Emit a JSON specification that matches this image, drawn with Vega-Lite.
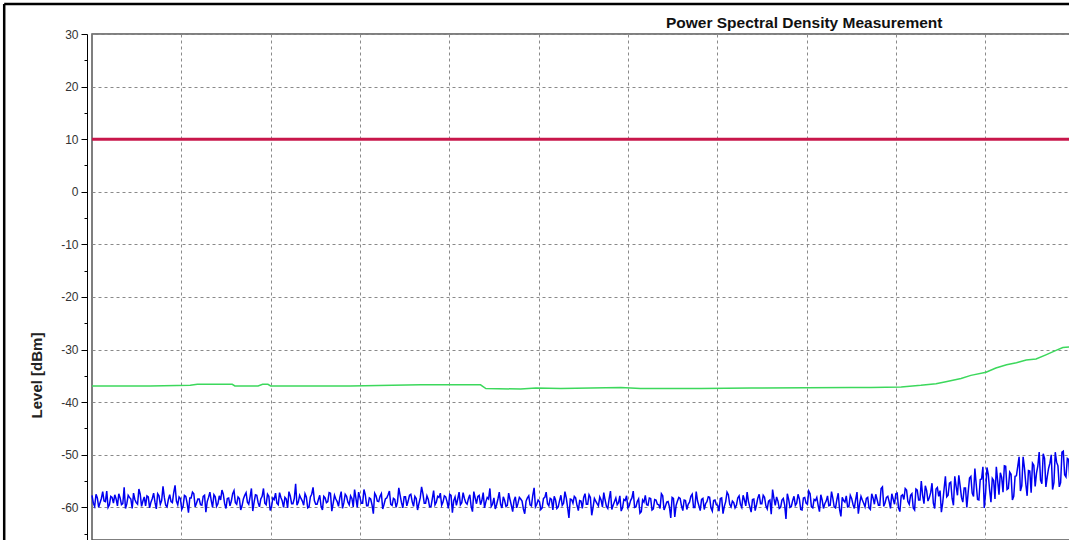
{
  "$schema": "https://vega.github.io/schema/vega-lite/v6.json",
  "width": 978,
  "height": 506,
  "autosize": {"type": "none"},
  "padding": {"left": 92, "top": 34, "right": 0, "bottom": 0},
  "background": "white",
  "title": {"text": "Power Spectral Density Measurement", "anchor": "start", "dx": 663, "font": "Liberation Sans", "fontSize": 15.5, "fontWeight": "bold", "color": "#111", "offset": -29},
  "config": {"view": {"stroke": "#555", "strokeWidth": 1.5}},
  "datasets": {
    "blue": [
      {"x":0,"y":-57.7},{"x":3,"y":-59.8},{"x":6,"y":-58.2},{"x":9,"y":-59.1},{"x":12,"y":-57.0},{"x":15,"y":-58.9},{"x":18,"y":-60.0},{"x":21,"y":-57.9},{"x":24,"y":-59.2},{"x":27,"y":-58.4},
      {"x":30,"y":-57.4},{"x":33,"y":-59.5},{"x":36,"y":-56.2},{"x":39,"y":-59.3},{"x":42,"y":-58.1},{"x":45,"y":-60.2},{"x":48,"y":-58.5},{"x":51,"y":-59.4},{"x":54,"y":-57.5},{"x":57,"y":-58.8},
      {"x":60,"y":-59.7},{"x":63,"y":-58.0},{"x":66,"y":-59.0},{"x":69,"y":-57.3},{"x":72,"y":-60.3},{"x":75,"y":-57.8},{"x":78,"y":-58.7},{"x":81,"y":-58.1},{"x":84,"y":-59.9},{"x":87,"y":-57.6},
      {"x":90,"y":-59.1},{"x":93,"y":-55.8},{"x":96,"y":-59.5},{"x":99,"y":-58.3},{"x":102,"y":-59.8},{"x":105,"y":-57.9},{"x":108,"y":-61.0},{"x":111,"y":-58.2},{"x":114,"y":-57.4},{"x":117,"y":-59.2},
      {"x":120,"y":-58.4},{"x":123,"y":-59.6},{"x":126,"y":-57.7},{"x":129,"y":-58.9},{"x":132,"y":-57.1},{"x":135,"y":-60.0},{"x":138,"y":-58.0},{"x":141,"y":-59.3},{"x":144,"y":-58.6},{"x":147,"y":-57.5},
      {"x":150,"y":-60.2},{"x":153,"y":-58.2},{"x":156,"y":-58.8},{"x":159,"y":-56.8},{"x":162,"y":-59.4},{"x":165,"y":-58.3},{"x":168,"y":-59.7},{"x":171,"y":-57.7},{"x":174,"y":-59.0},{"x":177,"y":-58.0},
      {"x":180,"y":-60.7},{"x":183,"y":-57.6},{"x":186,"y":-59.1},{"x":189,"y":-58.4},{"x":192,"y":-56.4},{"x":195,"y":-59.5},{"x":198,"y":-57.9},{"x":201,"y":-59.9},{"x":204,"y":-58.5},{"x":207,"y":-59.2},
      {"x":210,"y":-57.2},{"x":213,"y":-58.8},{"x":216,"y":-58.1},{"x":219,"y":-60.1},{"x":222,"y":-57.8},{"x":225,"y":-59.3},{"x":228,"y":-55.5},{"x":231,"y":-59.0},{"x":234,"y":-58.3},{"x":237,"y":-59.6},
      {"x":240,"y":-58.0},{"x":243,"y":-59.9},{"x":246,"y":-57.5},{"x":249,"y":-58.7},{"x":252,"y":-59.4},{"x":255,"y":-57.7},{"x":258,"y":-60.5},{"x":261,"y":-58.2},{"x":264,"y":-58.9},{"x":267,"y":-57.3},
      {"x":270,"y":-59.3},{"x":273,"y":-58.4},{"x":276,"y":-59.8},{"x":279,"y":-57.0},{"x":282,"y":-59.1},{"x":285,"y":-57.9},{"x":288,"y":-59.5},{"x":291,"y":-58.3},{"x":294,"y":-56.6},{"x":297,"y":-60.0},
      {"x":300,"y":-58.1},{"x":303,"y":-59.2},{"x":306,"y":-57.6},{"x":309,"y":-59.7},{"x":312,"y":-58.4},{"x":315,"y":-61.2},{"x":318,"y":-57.8},{"x":321,"y":-58.9},{"x":324,"y":-57.4},{"x":327,"y":-59.4},
      {"x":330,"y":-58.2},{"x":333,"y":-56.9},{"x":336,"y":-59.6},{"x":339,"y":-58.5},{"x":342,"y":-59.0},{"x":345,"y":-57.7},{"x":348,"y":-60.1},{"x":351,"y":-58.0},{"x":354,"y":-58.8},{"x":357,"y":-57.5},
      {"x":360,"y":-59.8},{"x":363,"y":-58.3},{"x":366,"y":-59.3},{"x":369,"y":-56.1},{"x":372,"y":-59.2},{"x":375,"y":-57.8},{"x":378,"y":-59.9},{"x":381,"y":-58.4},{"x":384,"y":-59.5},{"x":387,"y":-57.9},
      {"x":390,"y":-57.3},{"x":393,"y":-59.0},{"x":396,"y":-58.0},{"x":399,"y":-60.2},{"x":402,"y":-57.7},{"x":405,"y":-58.7},{"x":408,"y":-59.6},{"x":411,"y":-57.1},{"x":414,"y":-59.1},{"x":417,"y":-58.3},
      {"x":420,"y":-59.4},{"x":423,"y":-57.6},{"x":426,"y":-60.8},{"x":429,"y":-58.2},{"x":432,"y":-57.9},{"x":435,"y":-59.5},{"x":438,"y":-57.2},{"x":441,"y":-58.9},{"x":444,"y":-58.4},{"x":447,"y":-59.8},
      {"x":450,"y":-58.2},{"x":453,"y":-59.5},{"x":456,"y":-57.1},{"x":459,"y":-60.1},{"x":462,"y":-58.7},{"x":465,"y":-59.6},{"x":468,"y":-58.5},{"x":471,"y":-60.8},{"x":474,"y":-58.0},{"x":477,"y":-59.2},
      {"x":480,"y":-58.4},{"x":483,"y":-60.3},{"x":486,"y":-58.8},{"x":489,"y":-57.8},{"x":492,"y":-59.7},{"x":495,"y":-56.3},{"x":498,"y":-59.4},{"x":501,"y":-58.9},{"x":504,"y":-60.1},{"x":507,"y":-58.1},
      {"x":510,"y":-59.3},{"x":513,"y":-58.3},{"x":516,"y":-60.5},{"x":519,"y":-58.6},{"x":522,"y":-59.9},{"x":525,"y":-57.7},{"x":528,"y":-59.2},{"x":531,"y":-58.2},{"x":534,"y":-62.0},{"x":537,"y":-58.5},
      {"x":540,"y":-57.9},{"x":543,"y":-59.6},{"x":546,"y":-58.7},{"x":549,"y":-60.2},{"x":552,"y":-57.4},{"x":555,"y":-59.4},{"x":558,"y":-58.1},{"x":561,"y":-60.0},{"x":564,"y":-58.8},{"x":567,"y":-59.7},
      {"x":570,"y":-58.6},{"x":573,"y":-57.2},{"x":576,"y":-59.8},{"x":579,"y":-58.4},{"x":582,"y":-60.4},{"x":585,"y":-58.9},{"x":588,"y":-59.5},{"x":591,"y":-57.8},{"x":594,"y":-60.1},{"x":597,"y":-58.7},
      {"x":600,"y":-60.1},{"x":603,"y":-58.7},{"x":606,"y":-56.9},{"x":609,"y":-59.9},{"x":612,"y":-58.4},{"x":615,"y":-60.8},{"x":618,"y":-59.0},{"x":621,"y":-59.5},{"x":624,"y":-58.2},{"x":627,"y":-60.5},
      {"x":630,"y":-58.5},{"x":633,"y":-59.4},{"x":636,"y":-60.2},{"x":639,"y":-57.8},{"x":642,"y":-59.8},{"x":645,"y":-58.9},{"x":648,"y":-62.0},{"x":651,"y":-58.3},{"x":654,"y":-59.6},{"x":657,"y":-58.1},
      {"x":660,"y":-59.7},{"x":663,"y":-58.6},{"x":666,"y":-60.4},{"x":669,"y":-59.0},{"x":672,"y":-57.5},{"x":675,"y":-60.0},{"x":678,"y":-58.8},{"x":681,"y":-60.6},{"x":684,"y":-58.3},{"x":687,"y":-59.3},
      {"x":690,"y":-58.0},{"x":693,"y":-60.1},{"x":696,"y":-58.7},{"x":699,"y":-59.5},{"x":702,"y":-60.7},{"x":705,"y":-58.2},{"x":708,"y":-59.8},{"x":711,"y":-57.1},{"x":714,"y":-59.4},{"x":717,"y":-58.8},
      {"x":720,"y":-60.1},{"x":723,"y":-58.2},{"x":726,"y":-59.4},{"x":729,"y":-57.7},{"x":732,"y":-59.7},{"x":735,"y":-58.9},{"x":738,"y":-60.9},{"x":741,"y":-58.4},{"x":744,"y":-59.5},{"x":747,"y":-57.5},
      {"x":750,"y":-59.3},{"x":753,"y":-58.1},{"x":756,"y":-60.3},{"x":759,"y":-58.6},{"x":762,"y":-56.6},{"x":765,"y":-59.6},{"x":768,"y":-58.8},{"x":771,"y":-60.0},{"x":774,"y":-58.3},{"x":777,"y":-62.2},
      {"x":780,"y":-58.5},{"x":783,"y":-59.8},{"x":786,"y":-57.9},{"x":789,"y":-59.2},{"x":792,"y":-58.4},{"x":795,"y":-60.5},{"x":798,"y":-58.1},{"x":801,"y":-59.4},{"x":804,"y":-57.4},{"x":807,"y":-60.1},
      {"x":810,"y":-58.7},{"x":813,"y":-59.6},{"x":816,"y":-57.6},{"x":819,"y":-60.2},{"x":822,"y":-58.8},{"x":825,"y":-59.7},{"x":828,"y":-57.0},{"x":831,"y":-59.9},{"x":834,"y":-58.5},{"x":837,"y":-60.4},
      {"x":840,"y":-58.1},{"x":843,"y":-59.0},{"x":846,"y":-59.9},{"x":849,"y":-57.7},{"x":852,"y":-59.4},{"x":855,"y":-58.5},{"x":858,"y":-61.2},{"x":861,"y":-57.9},{"x":864,"y":-59.2},{"x":867,"y":-58.3},
      {"x":870,"y":-60.1},{"x":873,"y":-57.4},{"x":876,"y":-59.4},{"x":879,"y":-58.5},{"x":882,"y":-59.6},{"x":885,"y":-56.1},{"x":888,"y":-59.1},{"x":891,"y":-57.9},{"x":894,"y":-60.2},{"x":897,"y":-58.4},
      {"x":900,"y":-57.4},{"x":903,"y":-60.1},{"x":906,"y":-57.8},{"x":909,"y":-58.5},{"x":912,"y":-56.7},{"x":915,"y":-59.4},{"x":918,"y":-57.4},{"x":921,"y":-60.5},{"x":924,"y":-56.7},{"x":927,"y":-58.6},
      {"x":930,"y":-57.7},{"x":933,"y":-55.9},{"x":936,"y":-58.8},{"x":939,"y":-57.2},{"x":942,"y":-59.2},{"x":945,"y":-56.5},{"x":948,"y":-57.9},{"x":951,"y":-60.9},{"x":954,"y":-56.5},{"x":957,"y":-58.0},
      {"x":960,"y":-55.4},{"x":963,"y":-58.3},{"x":966,"y":-54.1},{"x":969,"y":-57.7},{"x":972,"y":-55.9},{"x":975,"y":-59.0},{"x":978,"y":-56.3},{"x":981,"y":-57.1},{"x":984,"y":-54.1},{"x":987,"y":-57.9},
      {"x":990,"y":-55.6},{"x":993,"y":-58.6},{"x":996,"y":-54.6},{"x":999,"y":-60.1},{"x":1002,"y":-52.4},{"x":1005,"y":-56.7},{"x":1008,"y":-54.5},{"x":1011,"y":-58.4},{"x":1014,"y":-54.9},{"x":1017,"y":-53.4},
      {"x":1020,"y":-57.1},{"x":1023,"y":-52.2},{"x":1026,"y":-56.4},{"x":1029,"y":-53.7},{"x":1032,"y":-57.9},{"x":1035,"y":-54.0},{"x":1038,"y":-50.4},{"x":1041,"y":-55.9},{"x":1044,"y":-52.5},{"x":1047,"y":-57.8},
      {"x":1050,"y":-53.1},{"x":1053,"y":-51.6},{"x":1056,"y":-56.0},{"x":1059,"y":-52.1},{"x":1062,"y":-54.8},{"x":1065,"y":-49.8},{"x":1068,"y":-56.1},{"x":1071,"y":-52.6},{"x":1074,"y":-50.0},{"x":1077,"y":-55.3},
      {"x":1080,"y":-51.4},{"x":1083,"y":-56.1},{"x":1086,"y":-49.5},{"x":1089,"y":-53.8},{"x":1092,"y":-50.7},{"x":1095,"y":-55.3},
      {"x":1.5,"y":-59.2},{"x":4.5,"y":-57.5},{"x":7.5,"y":-60.0},{"x":10.5,"y":-58.3},{"x":13.5,"y":-58.8},{"x":16.5,"y":-56.9},{"x":19.5,"y":-59.5},{"x":22.5,"y":-58.1},{"x":25.5,"y":-57.6},{"x":28.5,"y":-59.7},
      {"x":31.5,"y":-58.2},{"x":34.5,"y":-59.3},{"x":37.5,"y":-60.2},{"x":40.5,"y":-57.7},{"x":43.5,"y":-58.4},{"x":46.5,"y":-57.3},{"x":49.5,"y":-59.1},{"x":52.5,"y":-56.5},{"x":55.5,"y":-59.8},{"x":58.5,"y":-58.0},
      {"x":61.5,"y":-57.8},{"x":64.5,"y":-60.1},{"x":67.5,"y":-58.3},{"x":70.5,"y":-59.0},{"x":73.5,"y":-57.4},{"x":76.5,"y":-59.4},{"x":79.5,"y":-56.0},{"x":82.5,"y":-59.6},{"x":85.5,"y":-58.5},{"x":88.5,"y":-58.9},
      {"x":91.5,"y":-57.2},{"x":94.5,"y":-58.8},{"x":97.5,"y":-58.0},{"x":100.5,"y":-60.4},{"x":103.5,"y":-57.7},{"x":106.5,"y":-59.2},{"x":109.5,"y":-58.2},{"x":112.5,"y":-57.1},{"x":115.5,"y":-59.9},{"x":118.5,"y":-58.4},
      {"x":121.5,"y":-59.5},{"x":124.5,"y":-57.9},{"x":127.5,"y":-60.9},{"x":130.5,"y":-58.1},{"x":133.5,"y":-58.7},{"x":136.5,"y":-57.6},{"x":139.5,"y":-59.8},{"x":142.5,"y":-57.8},{"x":145.5,"y":-56.7},{"x":148.5,"y":-59.3},
      {"x":151.5,"y":-58.3},{"x":154.5,"y":-59.7},{"x":157.5,"y":-57.4},{"x":160.5,"y":-59.1},{"x":163.5,"y":-58.0},{"x":166.5,"y":-60.5},{"x":169.5,"y":-58.4},{"x":172.5,"y":-57.2},{"x":175.5,"y":-59.4},{"x":178.5,"y":-56.4},
      {"x":181.5,"y":-59.0},{"x":184.5,"y":-57.7},{"x":187.5,"y":-59.9},{"x":190.5,"y":-57.9},{"x":193.5,"y":-59.2},{"x":196.5,"y":-57.5},{"x":199.5,"y":-60.6},{"x":202.5,"y":-58.2},{"x":205.5,"y":-57.3},{"x":208.5,"y":-59.5},
      {"x":211.5,"y":-58.1},{"x":214.5,"y":-60.0},{"x":217.5,"y":-58.4},{"x":220.5,"y":-57.0},{"x":223.5,"y":-59.3},{"x":226.5,"y":-58.3},{"x":229.5,"y":-59.6},{"x":232.5,"y":-57.7},{"x":235.5,"y":-58.8},{"x":238.5,"y":-57.4},
      {"x":241.5,"y":-60.1},{"x":244.5,"y":-58.0},{"x":247.5,"y":-56.2},{"x":250.5,"y":-59.4},{"x":253.5,"y":-58.5},{"x":256.5,"y":-59.8},{"x":259.5,"y":-57.9},{"x":262.5,"y":-59.1},{"x":265.5,"y":-57.2},{"x":268.5,"y":-60.7},
      {"x":271.5,"y":-57.7},{"x":274.5,"y":-58.9},{"x":277.5,"y":-58.1},{"x":280.5,"y":-60.2},{"x":283.5,"y":-57.5},{"x":286.5,"y":-59.0},{"x":289.5,"y":-57.8},{"x":292.5,"y":-59.9},{"x":295.5,"y":-58.3},{"x":298.5,"y":-57.1},
      {"x":301.5,"y":-59.2},{"x":304.5,"y":-56.6},{"x":307.5,"y":-59.7},{"x":310.5,"y":-58.2},{"x":313.5,"y":-59.5},{"x":316.5,"y":-57.3},{"x":319.5,"y":-58.8},{"x":322.5,"y":-57.9},{"x":325.5,"y":-60.3},{"x":328.5,"y":-58.4},
      {"x":331.5,"y":-57.6},{"x":334.5,"y":-59.4},{"x":337.5,"y":-58.3},{"x":340.5,"y":-60.0},{"x":343.5,"y":-56.3},{"x":346.5,"y":-59.1},{"x":349.5,"y":-58.0},{"x":352.5,"y":-59.7},{"x":355.5,"y":-57.7},{"x":358.5,"y":-58.9},
      {"x":361.5,"y":-57.9},{"x":364.5,"y":-60.5},{"x":367.5,"y":-58.2},{"x":370.5,"y":-57.4},{"x":373.5,"y":-59.2},{"x":376.5,"y":-58.5},{"x":379.5,"y":-59.9},{"x":382.5,"y":-56.8},{"x":385.5,"y":-59.0},{"x":388.5,"y":-58.1},
      {"x":391.5,"y":-59.6},{"x":394.5,"y":-57.8},{"x":397.5,"y":-58.9},{"x":400.5,"y":-57.5},{"x":403.5,"y":-61.0},{"x":406.5,"y":-58.0},{"x":409.5,"y":-58.4},{"x":412.5,"y":-59.5},{"x":415.5,"y":-57.2},{"x":418.5,"y":-59.1},
      {"x":421.5,"y":-58.3},{"x":424.5,"y":-59.8},{"x":427.5,"y":-57.0},{"x":430.5,"y":-59.3},{"x":433.5,"y":-57.7},{"x":436.5,"y":-58.7},{"x":439.5,"y":-60.1},{"x":442.5,"y":-58.1},{"x":445.5,"y":-56.4},{"x":448.5,"y":-59.4},
      {"x":451.5,"y":-60.3},{"x":454.5,"y":-58.4},{"x":457.5,"y":-59.4},{"x":460.5,"y":-58.0},{"x":463.5,"y":-59.8},{"x":466.5,"y":-57.3},{"x":469.5,"y":-59.6},{"x":472.5,"y":-58.7},{"x":475.5,"y":-60.1},{"x":478.5,"y":-58.1},
      {"x":481.5,"y":-58.8},{"x":484.5,"y":-61.2},{"x":487.5,"y":-58.2},{"x":490.5,"y":-59.5},{"x":493.5,"y":-57.7},{"x":496.5,"y":-59.9},{"x":499.5,"y":-58.6},{"x":502.5,"y":-60.4},{"x":505.5,"y":-58.3},{"x":508.5,"y":-57.1},
      {"x":511.5,"y":-59.7},{"x":514.5,"y":-58.5},{"x":517.5,"y":-57.9},{"x":520.5,"y":-60.2},{"x":523.5,"y":-58.7},{"x":526.5,"y":-59.6},{"x":529.5,"y":-57.0},{"x":532.5,"y":-60.0},{"x":535.5,"y":-58.4},{"x":538.5,"y":-59.2},
      {"x":541.5,"y":-58.2},{"x":544.5,"y":-60.6},{"x":547.5,"y":-58.8},{"x":550.5,"y":-58.1},{"x":553.5,"y":-59.4},{"x":556.5,"y":-57.6},{"x":559.5,"y":-61.5},{"x":562.5,"y":-58.3},{"x":565.5,"y":-59.3},{"x":568.5,"y":-58.0},
      {"x":571.5,"y":-59.9},{"x":574.5,"y":-58.6},{"x":577.5,"y":-60.2},{"x":580.5,"y":-56.9},{"x":583.5,"y":-59.6},{"x":586.5,"y":-58.2},{"x":589.5,"y":-59.1},{"x":592.5,"y":-60.7},{"x":595.5,"y":-58.5},{"x":598.5,"y":-57.8},
      {"x":601.5,"y":-59.7},{"x":604.5,"y":-58.2},{"x":607.5,"y":-60.0},{"x":610.5,"y":-58.9},{"x":613.5,"y":-61.1},{"x":616.5,"y":-58.6},{"x":619.5,"y":-57.7},{"x":622.5,"y":-59.6},{"x":625.5,"y":-58.3},{"x":628.5,"y":-60.3},
      {"x":631.5,"y":-58.6},{"x":634.5,"y":-59.5},{"x":637.5,"y":-57.4},{"x":640.5,"y":-60.5},{"x":643.5,"y":-59.0},{"x":646.5,"y":-59.9},{"x":649.5,"y":-58.1},{"x":652.5,"y":-61.8},{"x":655.5,"y":-58.8},{"x":658.5,"y":-58.3},
      {"x":661.5,"y":-60.6},{"x":664.5,"y":-58.7},{"x":667.5,"y":-59.4},{"x":670.5,"y":-57.9},{"x":673.5,"y":-60.0},{"x":676.5,"y":-57.0},{"x":679.5,"y":-59.7},{"x":682.5,"y":-58.5},{"x":685.5,"y":-60.4},{"x":688.5,"y":-58.9},
      {"x":691.5,"y":-58.1},{"x":694.5,"y":-60.7},{"x":697.5,"y":-58.6},{"x":700.5,"y":-59.6},{"x":703.5,"y":-58.3},{"x":706.5,"y":-61.2},{"x":709.5,"y":-58.9},{"x":712.5,"y":-57.6},{"x":715.5,"y":-59.9},{"x":718.5,"y":-59.1},
      {"x":721.5,"y":-59.6},{"x":724.5,"y":-57.8},{"x":727.5,"y":-60.0},{"x":730.5,"y":-58.6},{"x":733.5,"y":-57.1},{"x":736.5,"y":-59.9},{"x":739.5,"y":-58.5},{"x":742.5,"y":-60.6},{"x":745.5,"y":-58.2},{"x":748.5,"y":-59.3},
      {"x":751.5,"y":-57.7},{"x":754.5,"y":-59.7},{"x":757.5,"y":-58.8},{"x":760.5,"y":-61.3},{"x":763.5,"y":-58.3},{"x":766.5,"y":-58.0},{"x":769.5,"y":-60.2},{"x":772.5,"y":-58.6},{"x":775.5,"y":-59.5},{"x":778.5,"y":-57.4},
      {"x":781.5,"y":-60.0},{"x":784.5,"y":-58.7},{"x":787.5,"y":-59.6},{"x":790.5,"y":-57.5},{"x":793.5,"y":-60.4},{"x":796.5,"y":-58.2},{"x":799.5,"y":-59.2},{"x":802.5,"y":-56.9},{"x":805.5,"y":-59.9},{"x":808.5,"y":-58.5},
      {"x":811.5,"y":-58.1},{"x":814.5,"y":-60.8},{"x":817.5,"y":-58.6},{"x":820.5,"y":-59.3},{"x":823.5,"y":-57.8},{"x":826.5,"y":-59.6},{"x":829.5,"y":-58.3},{"x":832.5,"y":-60.1},{"x":835.5,"y":-57.3},{"x":838.5,"y":-61.7},
      {"x":841.5,"y":-58.7},{"x":844.5,"y":-57.8},{"x":847.5,"y":-59.8},{"x":850.5,"y":-58.3},{"x":853.5,"y":-60.2},{"x":856.5,"y":-57.1},{"x":859.5,"y":-59.3},{"x":862.5,"y":-58.6},{"x":865.5,"y":-59.9},{"x":868.5,"y":-58.1},
      {"x":871.5,"y":-60.4},{"x":874.5,"y":-58.2},{"x":877.5,"y":-57.5},{"x":880.5,"y":-59.6},{"x":883.5,"y":-56.4},{"x":886.5,"y":-59.8},{"x":889.5,"y":-58.1},{"x":892.5,"y":-58.9},{"x":895.5,"y":-57.4},{"x":898.5,"y":-59.4},
      {"x":901.5,"y":-57.3},{"x":904.5,"y":-60.8},{"x":907.5,"y":-57.6},{"x":910.5,"y":-56.4},{"x":913.5,"y":-58.9},{"x":916.5,"y":-57.7},{"x":919.5,"y":-60.1},{"x":922.5,"y":-56.5},{"x":925.5,"y":-58.6},{"x":928.5,"y":-55.0},
      {"x":931.5,"y":-59.3},{"x":934.5,"y":-56.8},{"x":937.5,"y":-58.1},{"x":940.5,"y":-55.4},{"x":943.5,"y":-60.2},{"x":946.5,"y":-56.2},{"x":949.5,"y":-56.8},{"x":952.5,"y":-59.1},{"x":955.5,"y":-54.1},{"x":958.5,"y":-57.7},
      {"x":961.5,"y":-55.2},{"x":964.5,"y":-59.6},{"x":967.5,"y":-56.0},{"x":970.5,"y":-53.9},{"x":973.5,"y":-58.1},{"x":976.5,"y":-56.3},{"x":979.5,"y":-60.0},{"x":982.5,"y":-54.4},{"x":985.5,"y":-57.3},{"x":988.5,"y":-52.6},
      {"x":991.5,"y":-58.5},{"x":994.5,"y":-54.7},{"x":997.5,"y":-52.3},{"x":1000.5,"y":-57.3},{"x":1003.5,"y":-53.7},{"x":1006.5,"y":-59.0},{"x":1009.5,"y":-54.9},{"x":1012.5,"y":-52.3},{"x":1015.5,"y":-57.6},{"x":1018.5,"y":-54.3},
      {"x":1021.5,"y":-52.1},{"x":1024.5,"y":-56.6},{"x":1027.5,"y":-53.3},{"x":1030.5,"y":-58.6},{"x":1033.5,"y":-54.1},{"x":1036.5,"y":-52.2},{"x":1039.5,"y":-56.9},{"x":1042.5,"y":-50.4},{"x":1045.5,"y":-55.5},{"x":1048.5,"y":-53.0},
      {"x":1051.5,"y":-57.2},{"x":1054.5,"y":-52.0},{"x":1057.5,"y":-53.5},{"x":1060.5,"y":-49.5},{"x":1063.5,"y":-55.5},{"x":1066.5,"y":-50.7},{"x":1069.5,"y":-54.2},{"x":1072.5,"y":-51.6},{"x":1075.5,"y":-56.6},{"x":1078.5,"y":-49.5},
      {"x":1081.5,"y":-52.1},{"x":1084.5,"y":-55.3},{"x":1087.5,"y":-49.3},{"x":1090.5,"y":-54.2},{"x":1093.5,"y":-50.9}
    ],
    "green": [
      {"x":0,"y":-36.9},{"x":65,"y":-36.9},{"x":110,"y":-36.8},{"x":118,"y":-36.6},{"x":157,"y":-36.6},{"x":160,"y":-36.9},{"x":186,"y":-36.9},{"x":191,"y":-36.6},{"x":197,"y":-36.6},{"x":200,"y":-36.9},
      {"x":289,"y":-36.9},{"x":368,"y":-36.7},{"x":435,"y":-36.7},{"x":441,"y":-37.4},{"x":480,"y":-37.5},{"x":497,"y":-37.3},{"x":525,"y":-37.4},{"x":592,"y":-37.2},{"x":614,"y":-37.4},{"x":682,"y":-37.4},
      {"x":738,"y":-37.3},{"x":850,"y":-37.2},{"x":872,"y":-37.2},{"x":906,"y":-37.1},{"x":928,"y":-36.8},{"x":945,"y":-36.5},{"x":956,"y":-36.1},{"x":973,"y":-35.5},{"x":984,"y":-34.9},{"x":1001,"y":-34.3},
      {"x":1012,"y":-33.5},{"x":1024,"y":-32.9},{"x":1035,"y":-32.5},{"x":1046,"y":-32.0},{"x":1057,"y":-31.8},{"x":1068,"y":-31.0},{"x":1080,"y":-30.1},{"x":1087,"y":-29.6},{"x":1095,"y":-29.5}
    ],
    "red": [{"x":0,"y":10},{"x":1095,"y":10}]
  },
  "resolve": {"axis": {"y": "independent"}},
  "layer": [
    {
      "data": {"name": "blue"},
      "mark": {"type": "line", "color": "#0000f0", "strokeWidth": 1.5},
      "encoding": {
        "x": {"field": "x", "type": "quantitative", "scale": {"domain": [0, 1095], "nice": false, "zero": false},
              "axis": {"orient": "bottom", "values": [100,200,300,400,500,600,700,800,900,1000], "grid": true, "gridDash": [3,3], "gridColor": "#8a8a8a", "gridWidth": 1, "labels": false, "ticks": false, "domain": false, "title": null}},
        "y": {"field": "y", "type": "quantitative", "scale": {"domain": [-66.2, 30], "nice": false, "zero": false},
              "axis": {"orient": "left", "values": [-60,-50,-40,-30,-20,-10,0,10,20,30], "offset": 5, "grid": true, "gridDash": [3,3], "gridColor": "#8a8a8a", "gridWidth": 1,
                       "domainColor": "#000", "domainWidth": 1, "tickColor": "#000", "tickSize": 6, "tickWidth": 1,
                       "labelExpr": "'' + datum.value", "labelFont": "Liberation Sans", "labelFontSize": 12, "labelColor": "#333", "labelPadding": 3,
                       "title": "Level [dBm]", "titleFont": "Liberation Sans", "titleFontSize": 15, "titleFontWeight": "bold", "titleColor": "#222",
                       "titleX": -46, "titleY": 341, "titleAngle": -90, "titleAlign": "center", "titleBaseline": "alphabetic"}}
      }
    },
    {
      "data": {"name": "green"},
      "mark": {"type": "line", "color": "#3cd85c", "strokeWidth": 1.5},
      "encoding": {
        "x": {"field": "x", "type": "quantitative"},
        "y": {"field": "y", "type": "quantitative",
              "axis": {"orient": "left", "values": [-65,-55,-45,-35,-25,-15,-5,5,15,25], "offset": 5, "grid": false, "domain": false, "labels": false, "tickColor": "#000", "tickSize": 3, "tickWidth": 1, "title": null}}
      }
    },
    {
      "data": {"name": "red"},
      "mark": {"type": "line", "color": "#c8174b", "strokeWidth": 3},
      "encoding": {
        "x": {"field": "x", "type": "quantitative"},
        "y": {"field": "y", "type": "quantitative", "axis": null}
      }
    },
    {
      "data": {"values": [{}]},
      "mark": {"type": "rule", "color": "#000", "strokeWidth": 2.5, "clip": false},
      "encoding": {
        "x": {"datum": -98.3, "type": "quantitative"},
        "x2": {"datum": 1100},
        "y": {"datum": 35.7, "type": "quantitative", "axis": null}
      }
    },
    {
      "data": {"values": [{}]},
      "mark": {"type": "rule", "color": "#000", "strokeWidth": 2.5, "clip": false},
      "encoding": {
        "x": {"datum": -98.3, "type": "quantitative"},
        "y": {"datum": 35.7, "type": "quantitative", "axis": null},
        "y2": {"datum": -70}
      }
    }
  ]
}
